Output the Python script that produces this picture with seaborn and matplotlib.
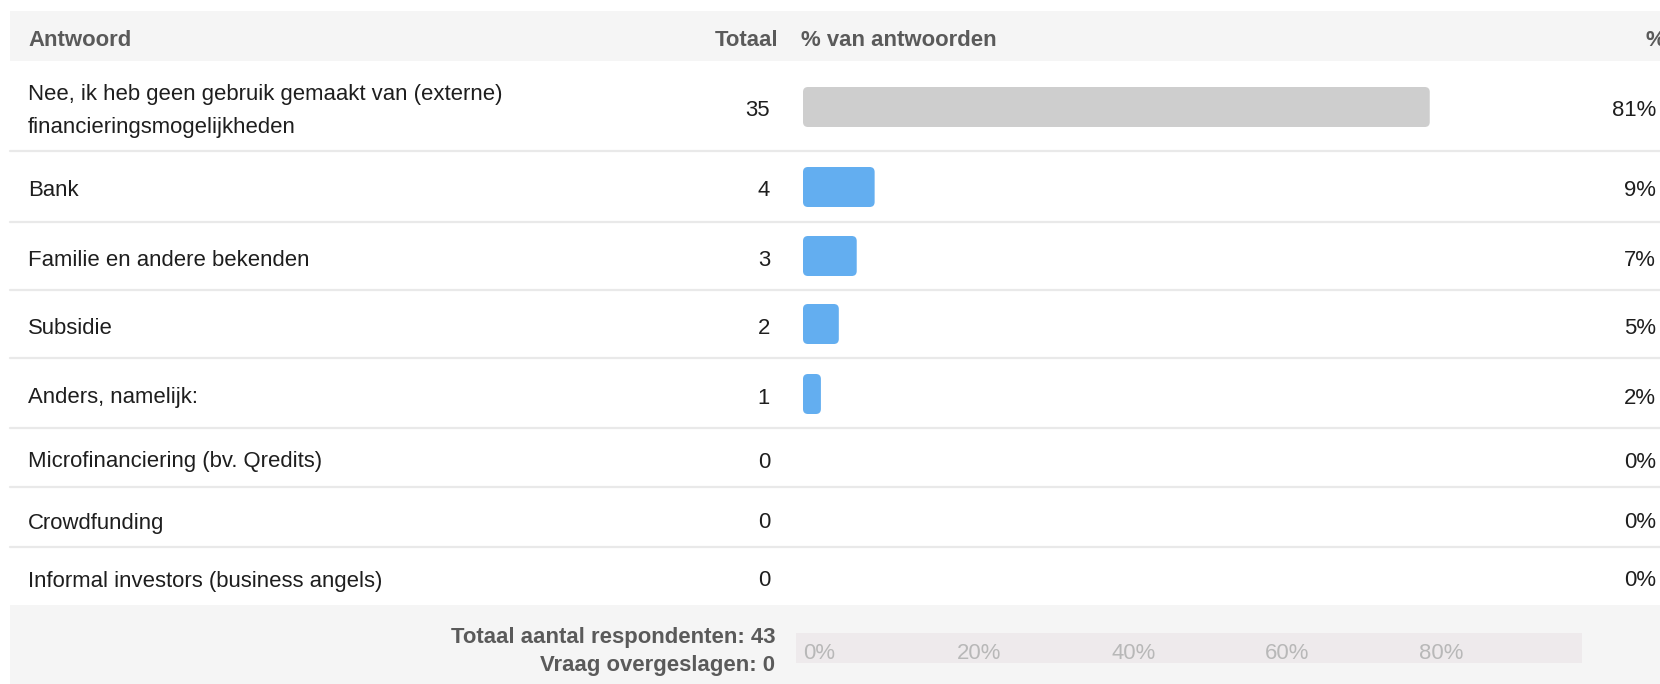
import numpy as np
import matplotlib
matplotlib.use('Agg')
import matplotlib.pyplot as plt
import seaborn as sns
from matplotlib.patches import Rectangle, FancyBboxPatch

# --- data ---
answers = [
    'Nee, ik heb geen gebruik gemaakt van (externe)\nfinancieringsmogelijkheden',
    'Bank',
    'Familie en andere bekenden',
    'Subsidie',
    'Anders, namelijk:',
    'Microfinanciering (bv. Qredits)',
    'Crowdfunding',
    'Informal investors (business angels)',
]
counts = [35, 4, 3, 2, 1, 0, 0, 0]
n_respondents = 43
n_skipped = 0
tick_values = [0, 20, 40, 60, 80]
tick_labels = ['0%', '20%', '40%', '60%', '80%']

pct = [c / n_respondents * 100 for c in counts]

# --- layout (pixels) ---
W, H = 1660, 684
row_y = [107, 187, 256, 324, 394, 458, 519, 577]
text_dy = 4
separators = [151, 222, 290, 358, 428, 487, 547]
bar_h = 40
bar_colors = ['#cecece'] + ['#63aef0'] * 7
x0_px, x100_px = 803, 1573

sns.set_style('white')
plt.rcParams['font.family'] = ['Liberation Sans', 'DejaVu Sans']
fs = 15.9

fig = plt.figure(figsize=(W / 100, H / 100), dpi=100)

# background table
bg = fig.add_axes([0, 0, 1, 1])
bg.set_xlim(0, W)
bg.set_ylim(H, 0)
bg.axis('off')
bg.add_patch(Rectangle((10, 11), W - 10, 50, color='#f5f5f5', lw=0))
bg.add_patch(Rectangle((10, 605), W - 10, H - 605, color='#f5f5f5', lw=0))
for y in separators:
    bg.plot([10, W], [y, y], color='#e9e9e9', lw=1.6)

hdr = dict(fontsize=fs, fontweight='bold', color='#5a5a5a', va='center')
bg.text(28, 40, 'Antwoord', ha='left', **hdr)
bg.text(778, 40, 'Totaal', ha='right', **hdr)
bg.text(801, 40, '% van antwoorden', ha='left', **hdr)
bg.text(1645, 40, '%', ha='left', **hdr)

for lab, c, p, y in zip(answers, counts, pct, row_y):
    ty = y + text_dy
    bg.text(28, ty, lab, ha='left', va='center', fontsize=fs, color='#1e1e1e',
            linespacing=1.72)
    bg.text(770, ty, str(c), ha='right', va='center', fontsize=fs, color='#1e1e1e')
    bg.text(1656, ty, f'{p:.0f}%', ha='right', va='center', fontsize=fs,
            color='#1e1e1e')

bg.text(775, 637, f'Totaal aantal respondenten: {n_respondents}', ha='right',
        **hdr)
bg.text(775, 666, f'Vraag overgeslagen: {n_skipped}', ha='right', **hdr)

# bars
ax = fig.add_axes([x0_px / W, 0, (x100_px - x0_px) / W, 1])
ax.patch.set_alpha(0)
min_gap = np.min(np.diff(row_y))
sns.barplot(x=pct, y=row_y, hue=answers, palette=bar_colors, orient='y',
            native_scale=True, width=bar_h / min_gap, dodge=False,
            legend=False, saturation=1, ax=ax)
ax.set_xlim(0, 100)
ax.set_ylim(H, 0)
ax.axis('off')

px_per_unit = (x100_px - x0_px) / 100
for p in list(ax.patches):
    x, y, w, h = p.get_x(), p.get_y(), p.get_width(), p.get_height()
    fc = p.get_facecolor()
    p.remove()
    if w <= 0:
        continue
    ax.add_patch(FancyBboxPatch((x, y), w, h,
                                boxstyle='round,pad=0,rounding_size=%.3f' % (5 / px_per_unit),
                                mutation_aspect=px_per_unit, fc=fc, ec='none'))

# footer axis
band_l, band_r, band_t, band_b = 796, 1582, 633, 663
fax = fig.add_axes([band_l / W, (H - band_b) / H, (band_r - band_l) / W,
                    (band_b - band_t) / H])
fax.set_facecolor('#eeeaec')
fax.set_xlim((band_l - x0_px) / px_per_unit, (band_r - x0_px) / px_per_unit)
fax.set_ylim(0, 1)
for s in fax.spines.values():
    s.set_visible(False)
fax.set_yticks([])
fax.set_xticks(tick_values)
fax.set_xticklabels(tick_labels, ha='left', color='#b8b8b8', fontsize=fs)
fax.tick_params(axis='x', length=0, pad=-14.7)

fig.savefig('out.png', dpi=100)
